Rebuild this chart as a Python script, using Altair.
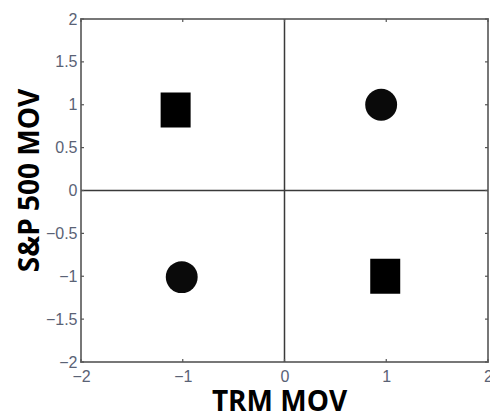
import altair as alt
import pandas as pd

# Marker data
marker_x = [-1.07, 0.95, -1.01, 0.99]
marker_y = [0.94, 1.0, -1.01, -1.0]
marker_shape = ["square", "circle", "circle", "square"]

x_ticks = [-2, -1, 0, 1, 2]
y_ticks = [-2, -1.5, -1, -0.5, 0, 0.5, 1, 1.5, 2]

W, H = 407, 343

df = pd.DataFrame({"x": marker_x, "y": marker_y, "shape": marker_shape})
df_xt = pd.DataFrame({"t": x_ticks})
df_yt = pd.DataFrame({"t": y_ticks})

xs = alt.Scale(domain=[-2, 2], nice=False, zero=False)
ys = alt.Scale(domain=[-2, 2], nice=False, zero=False)

label_color = "#5a6275"

x_axis = alt.Axis(
    values=x_ticks, format="~g", ticks=False, domain=False, grid=False,
    labelFont="Liberation Sans", labelFontSize=16, labelColor=label_color,
    labelPadding=6, labelFlush=False,
    title="TRM MOV", titleFont="Open Sans", titleFontWeight="bold",
    titleFontSize=28, titleColor="black", titleBaseline="alphabetic",
    titleY=48, titleX=198,
)
y_axis = alt.Axis(
    values=y_ticks, format="~g", ticks=False, domain=False, grid=False,
    labelFont="Liberation Sans", labelFontSize=16, labelColor=label_color,
    labelPadding=4, labelFlush=False,
    title="S&P 500 MOV", titleFont="Open Sans", titleFontWeight="bold",
    titleFontSize=28, titleColor="black", titleBaseline="alphabetic",
    titleAngle=270, titleX=-43, titleY=161,
)

X = lambda f: alt.X(f, scale=xs, axis=x_axis)
Y = lambda f: alt.Y(f, scale=ys, axis=y_axis)

circles = alt.Chart(df).transform_filter(alt.datum.shape == "circle").mark_point(
    shape="circle", filled=True, size=1018, color="#0a0a0a", opacity=1
).encode(x=X("x:Q"), y=Y("y:Q"))

squares = alt.Chart(df).transform_filter(alt.datum.shape == "square").mark_point(
    shape="M-0.857,-1H0.857V1H-0.857Z", filled=True, size=1225, color="#000000", opacity=1
).encode(x=X("x:Q"), y=Y("y:Q"))

zero_v = alt.Chart(pd.DataFrame({"v": [0]})).mark_rule(color="#3a3a3a", strokeWidth=1.5).encode(
    x=X("v:Q")
)
zero_h = alt.Chart(pd.DataFrame({"v": [0]})).mark_rule(color="#3a3a3a", strokeWidth=1.5).encode(
    y=Y("v:Q")
)

tick_color = "#555555"
xt_bottom = alt.Chart(df_xt).mark_rule(color=tick_color, strokeWidth=1.2).encode(
    x=X("t:Q"), y=alt.value(H), y2=alt.value(H - 3)
)
xt_top = alt.Chart(df_xt).mark_rule(color=tick_color, strokeWidth=1.2).encode(
    x=X("t:Q"), y=alt.value(0), y2=alt.value(3)
)
yt_left = alt.Chart(df_yt).mark_rule(color=tick_color, strokeWidth=1.2).encode(
    y=Y("t:Q"), x=alt.value(0), x2=alt.value(3)
)
yt_right = alt.Chart(df_yt).mark_rule(color=tick_color, strokeWidth=1.2).encode(
    y=Y("t:Q"), x=alt.value(W), x2=alt.value(W - 3)
)

chart = alt.layer(
    zero_v, zero_h, xt_bottom, xt_top, yt_left, yt_right, circles, squares
).properties(
    width=W, height=H,
    autosize=alt.AutoSizeParams(type="none"),
    padding={"left": 81, "top": 19, "right": 2, "bottom": 53},
    background="white",
).configure_view(
    stroke="#777777", strokeWidth=2
)

chart.save("out.html", embed_options={"renderer": "svg", "actions": False})
